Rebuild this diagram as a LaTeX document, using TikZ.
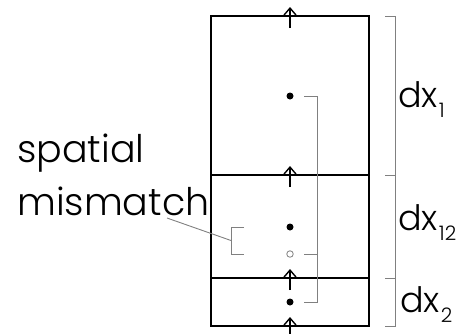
\documentclass[tikz,border=0pt]{standalone}
\usepackage{fontspec}
\setmainfont{Poppins}[UprightFont=* Light]
\usetikzlibrary{calc, arrows.meta}
\newcommand{\dxsub}[1]{dx\kern1pt\raisebox{-10pt}{\fontsize{20}{20}\selectfont #1}}

\begin{document}
\begin{tikzpicture}[x=1pt, y=-1pt, >={Straight Barb[length=7pt, width=12pt]},
    cell/.style={line width=1.2pt},
    guide/.style={gray, line width=0.9pt},
    dot/.style={circle, fill, inner sep=0pt, minimum size=7pt},
    ring/.style={circle, draw=gray, line width=0.8pt, inner sep=0pt, minimum size=6.5pt},
    word/.style={inner sep=0pt, anchor=base west, font=\fontsize{38}{38}\selectfont},
    dxlabel/.style={inner sep=0pt, anchor=base west, font=\fontsize{35}{35}\selectfont}]
    \useasboundingbox (0,0) rectangle (465,333);
    % cells
    \draw[cell] (211,16) rectangle (369,326);
    \draw[cell] (211,175) -- (369,175);
    \draw[cell] (211,278) -- (369,278);
    % fluxes across the cell faces
    \foreach \y in {16, 175, 278, 326} {
        \draw[->, line width=1.4pt] (290,\y+12) -- (290,\y-9);
    }
    % cell centres
    \node[dot] (p1) at (290,96) {};
    \node[dot] (p12) at (290,227) {};
    \node[ring] (q12) at (290,254) {};
    \node[dot] (p2) at (290,302) {};
    % bracket joining the centres
    \draw[guide] ($(p1)+(14,0)$) -| ($(p2)+(27,0)$) -- ($(p2)+(14,0)$);
    \draw[guide] ($(q12)+(14,0)$) -- ($(q12)+(27,0)$);
    % mismatch bracket
    \draw[guide] ($(p12)+(-46,0)$) -- ($(p12)+(-59,0)$) coordinate (mtop)
        -- ($(q12)+(-59,0)$) coordinate (mbot) -- ($(q12)+(-46,0)$);
    \coordinate (mmid) at ($(mtop)!0.5!(mbot)$);
    \node[word] (spatial) at (17,162) {spatial};
    \node[word] (mismatch) at (17,215) {mismatch};
    \coordinate (lead) at ($(mismatch.base west)+(150,3)$);
    \draw[guide] (lead) -- (mmid);
    % cell widths
    \foreach \ya/\yb in {16/175, 175/278, 278/326} {
        \draw[guide] (385,\ya) -- (395,\ya) -- (395,\yb) -- (385,\yb);
    }
    \node[dxlabel] (dx1) at (398,107) {\dxsub{1}};
    \node[dxlabel] (dx12) at (398,230) {\dxsub{12}};
    \node[dxlabel] (dx2) at (400,312) {\dxsub{2}};
\end{tikzpicture}
\end{document}
